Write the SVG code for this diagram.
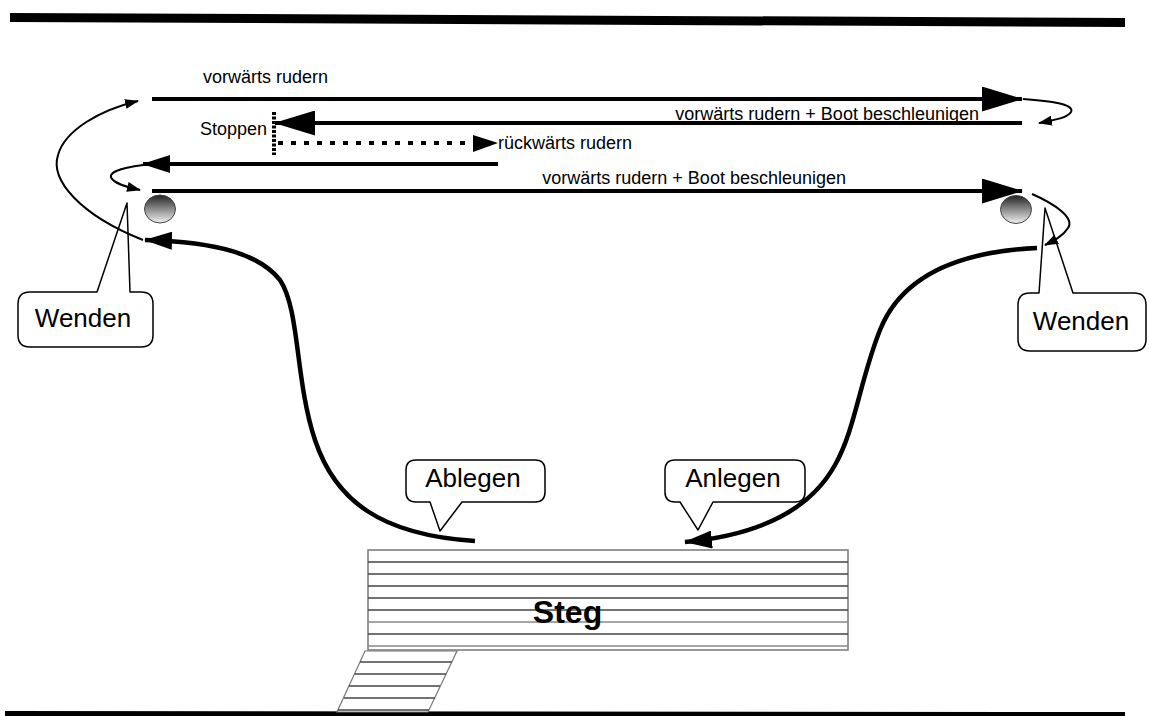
<svg xmlns="http://www.w3.org/2000/svg" width="1149" height="716" viewBox="0 0 1149 716">
<style>
text{font-family:"Liberation Sans",Arial,sans-serif;fill:#000}
.s{font-size:18px}
.c{font-size:26px;text-anchor:middle}
.ln{stroke:#000;stroke-width:4;fill:none}
.thin{stroke:#000;stroke-width:2;fill:none}
.thick{stroke:#000;stroke-width:4.5;fill:none}
.call{fill:#fff;stroke:#000;stroke-width:1.5;stroke-linejoin:round}
.plank{stroke:#444;stroke-width:1.5}
.plank2{stroke:#888;stroke-width:1.5}
</style>
<defs>
<marker id="big" markerUnits="userSpaceOnUse" markerWidth="41" markerHeight="25" refX="40" refY="12.5" orient="auto"><path d="M0,0 L41,12.5 L0,25 Z" fill="#000"/></marker>
<marker id="mid" markerUnits="userSpaceOnUse" markerWidth="28" markerHeight="18" refX="27" refY="9" orient="auto"><path d="M0,0 L28,9 L0,18 Z" fill="#000"/></marker>
<marker id="small" markerUnits="userSpaceOnUse" markerWidth="14" markerHeight="10" refX="13" refY="5" orient="auto"><path d="M0,0 L14,5 L0,10 Z" fill="#000"/></marker>
<linearGradient id="buoy" x1="0" y1="0" x2="0" y2="1"><stop offset="0" stop-color="#222"/><stop offset="1" stop-color="#f2f2f2"/></linearGradient>
</defs>

<g id="banks">
<polygon points="10,13 1125,18 1125,27 10,22" fill="#000"/>
<polygon points="5,711 1125,712 1125,716 5,716" fill="#000"/>
</g>

<g id="steg">
<rect x="368" y="550" width="480" height="100" fill="#fff" stroke="#777" stroke-width="1.5"/>
<line class="plank" x1="368" y1="562" x2="848" y2="562"/>
<line class="plank" x1="368" y1="574" x2="848" y2="574"/>
<line class="plank" x1="368" y1="586" x2="848" y2="586"/>
<line class="plank" x1="368" y1="598" x2="848" y2="598"/>
<line class="plank" x1="368" y1="610" x2="848" y2="610"/>
<line class="plank2" x1="368" y1="622" x2="848" y2="622"/>
<line class="plank" x1="368" y1="634" x2="848" y2="634"/>
<line class="plank2" x1="368" y1="646" x2="848" y2="646"/>
<text x="567.5" y="623" font-size="32" font-weight="bold" text-anchor="middle">Steg</text>
</g>

<g id="stairs">
<polygon points="365,651 457,651 428,712 337,712" fill="#fff" stroke="#777" stroke-width="1.2"/>
<line class="plank" x1="360" y1="662" x2="452" y2="662"/>
<line class="plank" x1="355" y1="674" x2="446" y2="674"/>
<line class="plank" x1="349" y1="686" x2="440" y2="686"/>
<line class="plank" x1="344" y1="698" x2="435" y2="698"/>
<line class="plank" x1="338" y1="710" x2="429" y2="710"/>
</g>

<g id="buoy-left"><ellipse cx="160" cy="209" rx="15.5" ry="14" fill="url(#buoy)" stroke="#444" stroke-width="1"/></g>
<g id="buoy-right"><ellipse cx="1016" cy="209.5" rx="15.5" ry="14" fill="url(#buoy)" stroke="#444" stroke-width="1"/></g>

<g id="callout-wenden-left">
<path class="call" d="M30,292 L97,292 L127,203 L130,292 L141,292 Q153,292 153,304 L153,335 Q153,347 141,347 L30,347 Q18,347 18,335 L18,304 Q18,292 30,292 Z"/>
<text class="c" x="83" y="327">Wenden</text>
</g>
<g id="callout-wenden-right">
<path class="call" d="M1030,293 L1039,293 L1045,208 L1073,293 L1134,293 Q1146,293 1146,305 L1146,339 Q1146,351 1134,351 L1030,351 Q1018,351 1018,339 L1018,305 Q1018,293 1030,293 Z"/>
<text class="c" x="1081" y="330">Wenden</text>
</g>
<g id="callout-ablegen">
<path class="call" d="M416,460 L535,460 Q545,460 545,470 L545,492 Q545,502 535,502 L462,502 L440,531 L430,502 L416,502 Q406,502 406,492 L406,470 Q406,460 416,460 Z"/>
<text class="c" x="473" y="487">Ablegen</text>
</g>
<g id="callout-anlegen">
<path class="call" d="M675,460 L795,460 Q805,460 805,470 L805,492 Q805,502 795,502 L713,502 L698,530 L680,502 L675,502 Q665,502 665,492 L665,470 Q665,460 675,460 Z"/>
<text class="c" x="733" y="487">Anlegen</text>
</g>

<g id="connectors">
<path class="ln" d="M152,99 L1022,99" marker-end="url(#big)"/>
<path class="ln" d="M1022,123 L275,123" marker-end="url(#big)"/>
<path d="M278,143 L473,143" stroke="#000" stroke-width="4" stroke-dasharray="5 8"/>
<polygon points="473,135 498,143 473,152" fill="#000"/>
<path d="M274,112 L274,155" stroke="#000" stroke-width="4" stroke-dasharray="3 1.5"/>
<path class="ln" d="M498,164 L143,164" marker-end="url(#mid)"/>
<path class="ln" d="M152,191 L1022,191" marker-end="url(#big)"/>
<path class="thin" d="M143,240 C80,215 50,180 58,155 C65,130 100,110 138,101" marker-end="url(#small)"/>
<path class="thin" d="M143,165 C120,168 105,173 113,180 C118,185 128,187 140,190" marker-end="url(#small)"/>
<path class="thin" d="M1023,99 C1050,101 1075,104 1071,112 C1067,118 1055,120 1039,123" marker-end="url(#small)"/>
<path class="thin" d="M1032,194 C1055,204 1075,218 1068,228 C1063,236 1055,240 1045,245" marker-end="url(#small)"/>
<path class="thick" d="M475,541 C380,535 335,500 315,440 C295,380 300,310 280,280 C260,255 220,242 145,240" marker-end="url(#mid)"/>
<path class="thick" d="M1037,248 C950,252 900,280 880,330 C860,380 855,430 835,465 C810,510 760,535 685,542" marker-end="url(#mid)"/>
</g>

<g id="labels">
<text class="s" x="203" y="83">vorwärts rudern</text>
<text class="s" x="979" y="120" text-anchor="end">vorwärts rudern + Boot beschleunigen</text>
<text class="s" x="267" y="135" text-anchor="end">Stoppen</text>
<text class="s" x="498" y="149">rückwärts rudern</text>
<text class="s" x="846" y="184" text-anchor="end">vorwärts rudern + Boot beschleunigen</text>
</g>
</svg>
